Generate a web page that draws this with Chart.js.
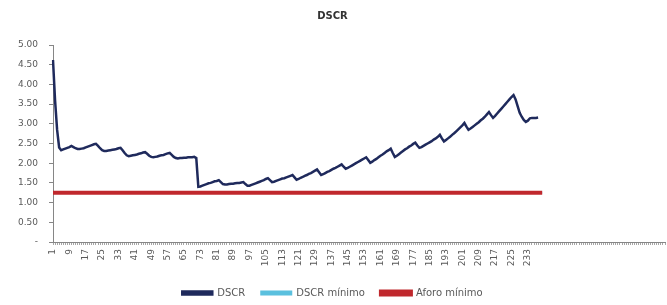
<!DOCTYPE html>
<html lang="es">
<head>
    <meta charset="UTF-8">
    <title>DSCR</title>
    <style>
        body { margin: 0; background: #fff; }
        #wrap { width: 667px; height: 305px; }
    </style>
</head>
<body>
<div id="wrap"><canvas id="chart"></canvas></div>
<script src="https://cdn.jsdelivr.net/npm/chart.js"></script>
<script>
    // periodos 1..240 con datos, el eje llega hasta 300 sin etiqueta
    const nPeriodos = 240;
    const nEje = 300;
    const etiquetas = [];
    for (let i = 1; i <= nEje; i++) etiquetas.push(i <= nPeriodos ? String(i) : '');

    const dscr = [
        4.62, 3.60, 2.85, 2.40, 2.33, 2.35, 2.37, 2.39, 2.41, 2.44, 2.41, 2.38,
        2.36, 2.36, 2.37, 2.38, 2.40, 2.42, 2.44, 2.46, 2.48, 2.49, 2.44, 2.38,
        2.33, 2.31, 2.31, 2.32, 2.33, 2.34, 2.35, 2.36, 2.38, 2.39, 2.33, 2.26,
        2.20, 2.18, 2.19, 2.20, 2.21, 2.22, 2.24, 2.25, 2.27, 2.28, 2.24, 2.19,
        2.16, 2.15, 2.16, 2.17, 2.19, 2.20, 2.21, 2.23, 2.25, 2.26, 2.21, 2.16,
        2.13, 2.12, 2.13, 2.13, 2.14, 2.14, 2.15, 2.15, 2.15, 2.16, 2.13,
        1.40, 1.41, 1.43, 1.45, 1.47, 1.49, 1.50, 1.52, 1.54, 1.55, 1.57, 1.52,
        1.47, 1.46, 1.46, 1.47, 1.48, 1.48, 1.49, 1.50, 1.50, 1.51, 1.52, 1.47,
        1.43, 1.43, 1.45, 1.47, 1.49, 1.51, 1.53, 1.55, 1.57, 1.60, 1.62, 1.57,
        1.52, 1.53, 1.55, 1.57, 1.59, 1.61, 1.62, 1.64, 1.66, 1.68, 1.70, 1.64,
        1.58, 1.60, 1.63, 1.65, 1.68, 1.70, 1.73, 1.75, 1.78, 1.81, 1.84, 1.77,
        1.70, 1.72, 1.75, 1.78, 1.80, 1.83, 1.86, 1.88, 1.91, 1.94, 1.97, 1.91,
        1.86, 1.88, 1.91, 1.94, 1.97, 2.00, 2.03, 2.06, 2.09, 2.12, 2.15, 2.08,
        2.01, 2.04, 2.08, 2.11, 2.15, 2.19, 2.22, 2.26, 2.30, 2.33, 2.37, 2.26,
        2.16, 2.19, 2.23, 2.27, 2.31, 2.35, 2.38, 2.42, 2.45, 2.49, 2.52, 2.45,
        2.39, 2.41, 2.44, 2.47, 2.50, 2.53, 2.56, 2.60, 2.63, 2.67, 2.72, 2.63,
        2.55, 2.59, 2.63, 2.67, 2.72, 2.76, 2.81, 2.86, 2.91, 2.96, 3.02, 2.93,
        2.85, 2.88, 2.92, 2.96, 3.00, 3.04, 3.09, 3.13, 3.18, 3.24, 3.30, 3.22,
        3.15, 3.20, 3.26, 3.32, 3.38, 3.44, 3.50, 3.56, 3.62, 3.68, 3.73, 3.62,
        3.45, 3.28, 3.18, 3.10, 3.05, 3.08, 3.14, 3.15, 3.15, 3.15, 3.16
    ];

    // lineas horizontales: valor y primer/ultimo periodo
    const dscrMinimo = 1.25;
    const aforoMinimo = 1.25;
    const tramoMinimo = ['1', '240'];

    const fuente = "'DejaVu Sans', sans-serif";
    const gris = '#595959';

    new Chart(document.getElementById('chart'), {
        type: 'line',
        data: {
            labels: etiquetas,
            datasets: [{
                label: 'DSCR',
                data: dscr,
                borderColor: '#1F2A5C',
                backgroundColor: '#1F2A5C',
                borderWidth: 2.5,
                pointRadius: 0,
                tension: 0,
                order: 0
            }, {
                label: 'DSCR mínimo',
                data: tramoMinimo.map(x => ({ x: x, y: dscrMinimo })),
                borderColor: '#5BC0DE',
                backgroundColor: '#5BC0DE',
                borderWidth: 2,
                pointRadius: 0,
                order: 2
            }, {
                label: 'Aforo mínimo',
                data: tramoMinimo.map(x => ({ x: x, y: aforoMinimo })),
                borderColor: '#C0282D',
                backgroundColor: '#C0282D',
                borderWidth: 4,
                pointRadius: 0,
                order: 1
            }]
        },
        options: {
            responsive: true,
            maintainAspectRatio: false,
            animation: false,
            layout: { padding: { left: 0, right: 2, top: 0, bottom: -3 } },
            plugins: {
                title: {
                    display: true,
                    text: 'DSCR',
                    color: '#333',
                    font: { family: fuente, size: 10, weight: 'bold' },
                    padding: { top: 10, bottom: 23 }
                },
                legend: {
                    position: 'bottom',
                    labels: {
                        boxWidth: 30,
                        boxHeight: 3,
                        color: gris,
                        font: { family: fuente, size: 10 },
                        padding: 16,
                        sort: (a, b) => a.datasetIndex - b.datasetIndex
                    }
                },
                tooltip: { enabled: false }
            },
            scales: {
                x: {
                    offset: false,
                    afterFit: s => { s.height = 30; s.paddingLeft = 0; s.paddingRight = 0; },
                    grid: { drawOnChartArea: false, tickLength: 3, color: '#A6A6A6' },
                    border: { color: '#868686' },
                    ticks: {
                        autoSkip: false,
                        maxRotation: 90,
                        minRotation: 90,
                        padding: 4,
                        color: gris,
                        font: { family: fuente, size: 9 },
                        callback: function (v, i) {
                            return (i % 8 === 0 && i < nPeriodos) ? this.getLabelForValue(v) : '';
                        }
                    }
                },
                y: {
                    min: 0,
                    max: 5,
                    afterFit: s => { s.width = 53; },
                    grid: { drawOnChartArea: false, tickLength: 4, color: '#868686' },
                    border: { color: '#868686' },
                    ticks: {
                        stepSize: 0.5,
                        padding: 11,
                        color: gris,
                        font: { family: fuente, size: 9 },
                        callback: v => v === 0 ? '-' : v.toFixed(2)
                    }
                }
            }
        }
    });
</script>
</body>
</html>
